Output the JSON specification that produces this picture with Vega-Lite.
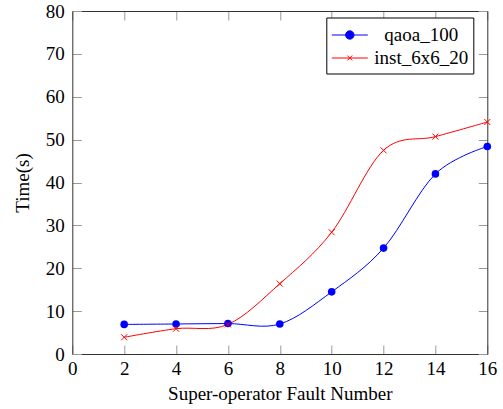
{
  "$schema": "https://vega.github.io/schema/vega-lite/v6.json",
  "width": 415,
  "height": 343,
  "autosize": {"type": "none"},
  "padding": {"left": 72.3, "top": 11, "right": 15.7, "bottom": 55},
  "background": "white",
  "config": {
    "font": "Liberation Serif, Times New Roman, serif",
    "view": {"stroke": null},
    "text": {"font": "Liberation Serif, Times New Roman, serif"},
    "axis": {
      "grid": false,
      "domainColor": "#333333",
      "domainWidth": 1,
      "tickColor": "#999999",
      "tickWidth": 1,
      "tickSize": -9,
      "labelFont": "Liberation Serif, Times New Roman, serif",
      "labelFontSize": 19,
      "labelColor": "black",
      "labelFlush": false,
      "labelOverlap": false,
      "titleFont": "Liberation Serif, Times New Roman, serif",
      "titleFontSize": 19,
      "titleFontWeight": "normal",
      "titleColor": "black"
    },
    "legend": {
      "labelFont": "Liberation Serif, Times New Roman, serif"
    }
  },
  "data": {
    "values": [
      {"series": "qaoa_100", "x": 2, "y": 6.9},
      {"series": "qaoa_100", "x": 4, "y": 7.0},
      {"series": "qaoa_100", "x": 6, "y": 7.1},
      {"series": "qaoa_100", "x": 8, "y": 7.0},
      {"series": "qaoa_100", "x": 10, "y": 14.5},
      {"series": "qaoa_100", "x": 12, "y": 24.7},
      {"series": "qaoa_100", "x": 14, "y": 42.0},
      {"series": "qaoa_100", "x": 16, "y": 48.4},
      {"series": "inst_6x6_20", "x": 2, "y": 3.9},
      {"series": "inst_6x6_20", "x": 4, "y": 5.9},
      {"series": "inst_6x6_20", "x": 6, "y": 6.9},
      {"series": "inst_6x6_20", "x": 8, "y": 16.4},
      {"series": "inst_6x6_20", "x": 10, "y": 28.4},
      {"series": "inst_6x6_20", "x": 12, "y": 47.5},
      {"series": "inst_6x6_20", "x": 14, "y": 50.7},
      {"series": "inst_6x6_20", "x": 16, "y": 54.1}
    ]
  },
  "layer": [
    {
      "mark": {"type": "line", "interpolate": "cardinal", "strokeWidth": 1},
      "encoding": {
        "x": {
          "field": "x", "type": "quantitative",
          "scale": {"domain": [0, 16], "nice": false, "zero": false},
          "axis": {"orient": "bottom", "values": [0, 2, 4, 6, 8, 10, 12, 14, 16], "title": "Super-operator Fault Number", "labelPadding": 14, "titlePadding": 6}
        },
        "y": {
          "field": "y", "type": "quantitative",
          "scale": {"domain": [0, 80], "nice": false, "zero": false},
          "axis": {"orient": "left", "values": [0, 10, 20, 30, 40, 50, 60, 70, 80], "title": "Time(s)", "labelPadding": 17, "titlePadding": 13}
        },
        "color": {
          "field": "series", "type": "nominal",
          "scale": {"domain": ["qaoa_100", "inst_6x6_20"], "range": ["#0000ff", "#ff0000"]},
          "legend": {
            "title": null,
            "orient": "none",
            "legendX": 254,
            "legendY": 6.5,
            "strokeColor": "black",
            "fillColor": "white",
            "padding": 5,
            "rowPadding": 0,
            "symbolSize": 576,
            "symbolStrokeWidth": 1,
            "labelFont": "Liberation Serif, Times New Roman, serif",
            "labelFontSize": 19,
            "labelColor": "black",
            "labelAlign": "center",
            "labelOffset": 65,
            "labelExpr": "'\u00a0' + datum.label + '\u00a0'",
            "encode": {
              "symbols": {
                "update": {
                  "shape": {"signal": "datum.value == 'qaoa_100' ? 'M-1,0L2,0M0.15,0A0.35,0.35 0 1,0 0.85,0A0.35,0.35 0 1,0 0.15,0Z' : 'M-1,0L2,0M0.3,-0.2L0.7,0.2M0.3,0.2L0.7,-0.2'"},
                  "fill": {"signal": "datum.value == 'qaoa_100' ? '#0000ff' : '#ff0000'"},
                  "stroke": {"signal": "datum.value == 'qaoa_100' ? '#0000ff' : '#ff0000'"},
                  "strokeWidth": {"value": 1},
                  "opacity": {"value": 1}
                }
              }
            }
          }
        }
      }
    },
    {
      "transform": [{"filter": "datum.series == 'qaoa_100'"}],
      "mark": {"type": "point", "filled": true, "opacity": 1, "shape": "circle", "size": 58, "color": "#0000ff"},
      "encoding": {
        "x": {
          "field": "x", "type": "quantitative",
          "axis": {"orient": "top", "values": [0, 2, 4, 6, 8, 10, 12, 14, 16], "labels": false, "title": null}
        },
        "y": {
          "field": "y", "type": "quantitative",
          "axis": {"orient": "right", "values": [0, 10, 20, 30, 40, 50, 60, 70, 80], "labels": false, "title": null}
        }
      }
    },
    {
      "transform": [{"filter": "datum.series == 'inst_6x6_20'"}],
      "mark": {"type": "point", "filled": false, "opacity": 1, "shape": "M-1,-1L1,1M-1,1L1,-1", "size": 36, "color": "#ff0000", "strokeWidth": 1},
      "encoding": {
        "x": {"field": "x", "type": "quantitative", "axis": null},
        "y": {"field": "y", "type": "quantitative", "axis": null}
      }
    }
  ],
  "resolve": {"axis": {"x": "independent", "y": "independent"}}
}
